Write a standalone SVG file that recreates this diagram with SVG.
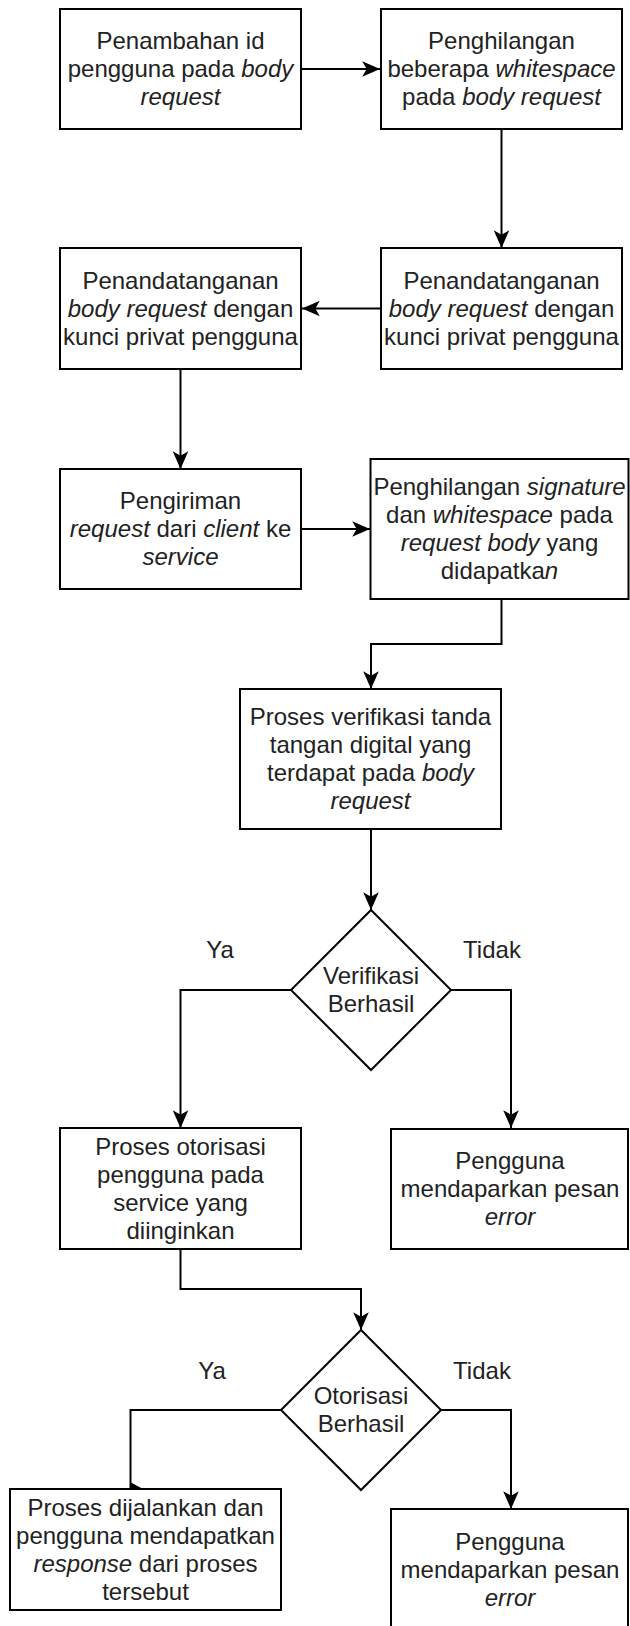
<svg xmlns="http://www.w3.org/2000/svg" width="630" height="1626" viewBox="0 0 630 1626">
<style>
.box{fill:#fff;stroke:#000;stroke-width:2}
.t{font-family:"Liberation Sans",Arial,sans-serif;font-size:24px;fill:#222;text-anchor:middle}
.i{font-style:italic}
.c{fill:none;stroke:#000;stroke-width:2}
</style>
<defs>
<marker id="arr" markerUnits="userSpaceOnUse" markerWidth="20" markerHeight="20" viewBox="-17 -8 18 16" refX="0" refY="0" orient="auto">
<path d="M0,0 L-16,-7 L-12,0 L-16,7 Z" fill="#000"/>
</marker>
</defs>
<rect width="630" height="1626" fill="#fff"/>
<g id="connectors">
<path class="c" d="M301,69 L380,69" marker-end="url(#arr)"/>
<path class="c" d="M501.5,129 L501.5,248" marker-end="url(#arr)"/>
<path class="c" d="M381,308.5 L302,308.5" marker-end="url(#arr)"/>
<path class="c" d="M180.5,369 L180.5,469" marker-end="url(#arr)"/>
<path class="c" d="M301,529 L370,529" marker-end="url(#arr)"/>
<path class="c" d="M501.5,599 L501.5,644 L371,644 L371,689" marker-end="url(#arr)"/>
<path class="c" d="M371,829 L371,910" marker-end="url(#arr)"/>
<path class="c" d="M291,990 L180.5,990 L180.5,1128" marker-end="url(#arr)"/>
<path class="c" d="M451,990 L511,990 L511,1128" marker-end="url(#arr)"/>
<path class="c" d="M180.5,1249 L180.5,1289 L361,1289 L361,1330" marker-end="url(#arr)"/>
<path class="c" d="M281,1410 L130.5,1410 L130.5,1489"/>
<polygon points="130,1482 143,1489 130,1489" fill="#000"/>
<path class="c" d="M441,1410 L511,1410 L511,1509" marker-end="url(#arr)"/>
</g>
<g id="n1">
<rect class="box" x="60" y="9" width="241" height="120"/>
<text class="t" x="180.5" y="49.3">Penambahan id</text>
<text class="t" x="180.5" y="77.3">pengguna pada <tspan class="i">body</tspan></text>
<text class="t" x="180.5" y="105.3"><tspan class="i">request</tspan></text>
</g>
<g id="n2">
<rect class="box" x="381" y="9" width="241" height="120"/>
<text class="t" x="501.5" y="49.3">Penghilangan</text>
<text class="t" x="501.5" y="77.3">beberapa <tspan class="i">whitespace</tspan></text>
<text class="t" x="501.5" y="105.3">pada <tspan class="i">body request</tspan></text>
</g>
<g id="n3">
<rect class="box" x="381" y="248" width="241" height="121"/>
<text class="t" x="501.5" y="288.8">Penandatanganan</text>
<text class="t" x="501.5" y="316.8"><tspan class="i">body request</tspan> dengan</text>
<text class="t" x="501.5" y="344.8">kunci privat pengguna</text>
</g>
<g id="n4">
<rect class="box" x="60" y="248" width="241" height="121"/>
<text class="t" x="180.5" y="288.8">Penandatanganan</text>
<text class="t" x="180.5" y="316.8"><tspan class="i">body request</tspan> dengan</text>
<text class="t" x="180.5" y="344.8">kunci privat pengguna</text>
</g>
<g id="n5">
<rect class="box" x="60" y="469" width="241" height="120"/>
<text class="t" x="180.5" y="509.3">Pengiriman</text>
<text class="t" x="180.5" y="537.3"><tspan class="i">request</tspan> dari <tspan class="i">client</tspan> ke</text>
<text class="t" x="180.5" y="565.3"><tspan class="i">service</tspan></text>
</g>
<g id="n6">
<rect class="box" x="370.5" y="459" width="258" height="140"/>
<text class="t" x="499.5" y="495.3">Penghilangan <tspan class="i">signature</tspan></text>
<text class="t" x="499.5" y="523.3">dan <tspan class="i">whitespace</tspan> pada</text>
<text class="t" x="499.5" y="551.3"><tspan class="i">request body</tspan> yang</text>
<text class="t" x="499.5" y="579.3">didapatka<tspan class="i">n</tspan></text>
</g>
<g id="n7">
<rect class="box" x="240" y="689" width="261" height="140"/>
<text class="t" x="370.5" y="725.3">Proses verifikasi tanda</text>
<text class="t" x="370.5" y="753.3">tangan digital yang</text>
<text class="t" x="370.5" y="781.3">terdapat pada <tspan class="i">body</tspan></text>
<text class="t" x="370.5" y="809.3"><tspan class="i">request</tspan></text>
</g>
<g id="d1">
<polygon class="box" stroke-width="1.5" points="371,910 451,990 371,1070 291,990"/>
<text class="t" x="371" y="984.3">Verifikasi</text>
<text class="t" x="371" y="1012.3">Berhasil</text>
</g>
<g id="l1">
<text class="t" x="220" y="958">Ya</text>
<text class="t" x="492" y="958">Tidak</text>
</g>
<g id="n8">
<rect class="box" x="60" y="1128" width="241" height="121"/>
<text class="t" x="180.5" y="1154.8">Proses otorisasi</text>
<text class="t" x="180.5" y="1182.8">pengguna pada</text>
<text class="t" x="180.5" y="1210.8">service yang</text>
<text class="t" x="180.5" y="1238.8">diinginkan</text>
</g>
<g id="n9">
<rect class="box" x="391" y="1129" width="237" height="120"/>
<text class="t" x="510" y="1168.8">Pengguna</text>
<text class="t" x="510" y="1196.8">mendaparkan pesan</text>
<text class="t" x="510" y="1224.8"><tspan class="i">error</tspan></text>
</g>
<g id="d2">
<polygon class="box" stroke-width="1.5" points="361,1330 441,1410 361,1490 281,1410"/>
<text class="t" x="361" y="1404.3">Otorisasi</text>
<text class="t" x="361" y="1432.3">Berhasil</text>
</g>
<g id="l2">
<text class="t" x="212" y="1379">Ya</text>
<text class="t" x="482" y="1379">Tidak</text>
</g>
<g id="n10">
<rect class="box" x="10" y="1489" width="271" height="121"/>
<text class="t" x="145.5" y="1515.8">Proses dijalankan dan</text>
<text class="t" x="145.5" y="1543.8">pengguna mendapatkan</text>
<text class="t" x="145.5" y="1571.8"><tspan class="i">response</tspan> dari proses</text>
<text class="t" x="145.5" y="1599.8">tersebut</text>
</g>
<g id="n11">
<rect class="box" x="391" y="1509" width="237" height="125"/>
<text class="t" x="510" y="1549.8">Pengguna</text>
<text class="t" x="510" y="1577.8">mendaparkan pesan</text>
<text class="t" x="510" y="1605.8"><tspan class="i">error</tspan></text>
</g>
</svg>
